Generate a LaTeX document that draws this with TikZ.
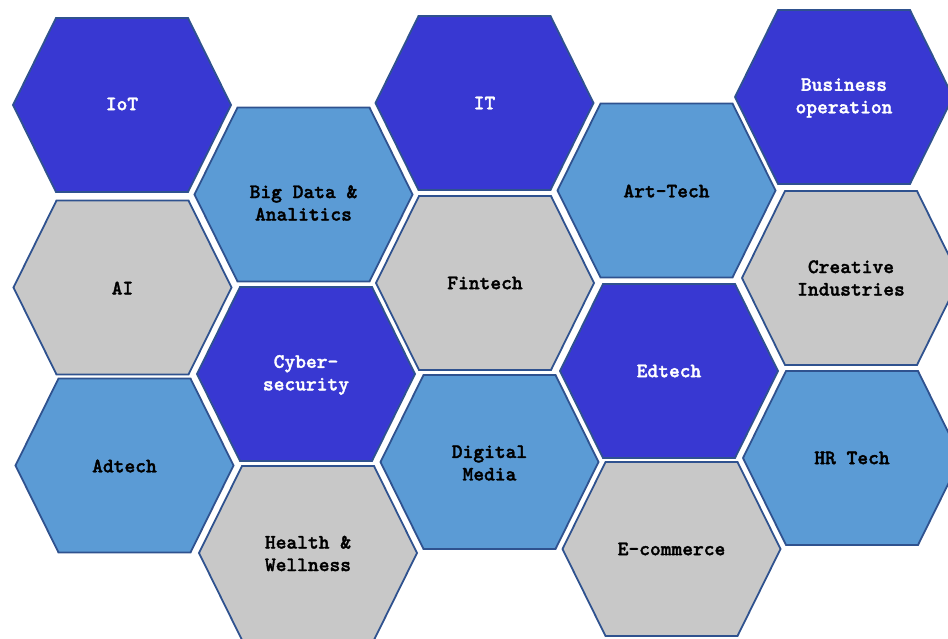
\documentclass[tikz,border=0pt]{standalone}
\usepackage{fontspec}
\newfontfamily\hexfont{lmmonolt10-bold}[Extension=.otf, FakeBold=1.6]
\definecolor{hexdark}{HTML}{3838D2}
\definecolor{hexmid}{HTML}{5B9BD5}
\definecolor{hexgray}{HTML}{C8C8C8}
\definecolor{hexborder}{HTML}{2F528F}
\tikzset{
  hexline/.style={draw=hexborder, line width=1.8pt, line join=miter},
  hexlabel/.style={font=\hexfont\fontsize{20.5}{22.5}\selectfont, align=center, inner sep=0pt},
}
% name, cx, cy, fill, text colour, text y, text
\newcommand\hexcell[7]{%
  \coordinate (#1) at (#2,#3);
  \path[hexline, fill=#4] (#2-109,#3) -- (#2-66,#3-87) -- (#2+66,#3-87) -- (#2+109,#3)
     -- (#2+66,#3+87) -- (#2-66,#3+87) -- cycle;
  \node[hexlabel, text=#5] (#1-label) at (#2,#6) {#7};
}
\begin{document}
\begin{tikzpicture}[x=1pt,y=-1pt]
\useasboundingbox (0,0) rectangle (948,639);
\clip (0,0) rectangle (948,639);
\hexcell{iot}{122}{105}{hexdark}{white}{104}{IoT}
\hexcell{bigdata}{303.5}{194.5}{hexmid}{black}{203}{Big Data \&\\Analitics}
\hexcell{ai}{122.5}{287.5}{hexgray}{black}{288}{AI}
\hexcell{adtech}{124.5}{465.5}{hexmid}{black}{466}{Adtech}
\hexcell{cyber}{306}{374}{hexdark}{white}{375}{Cyber-\\security}
\hexcell{health}{308}{553}{hexgray}{black}{553.5}{Health \&\\Wellness}
\hexcell{it}{484.5}{103}{hexdark}{white}{103}{IT}
\hexcell{fintech}{485}{283}{hexgray}{black}{283}{Fintech}
\hexcell{digital}{489.5}{462}{hexmid}{black}{463}{Digital\\Media}
\hexcell{arttech}{666.5}{190.5}{hexmid}{black}{191}{Art-Tech}
\hexcell{edtech}{669}{371}{hexdark}{white}{371}{Edtech}
\hexcell{ecommerce}{671.5}{549}{hexgray}{black}{549}{E-commerce}
\hexcell{business}{844}{97}{hexdark}{white}{98}{Business\\operation}
\hexcell{creative}{851}{278}{hexgray}{black}{278}{Creative\\Industries}
\hexcell{hrtech}{852}{458}{hexmid}{black}{458}{HR Tech}
\end{tikzpicture}
\end{document}
